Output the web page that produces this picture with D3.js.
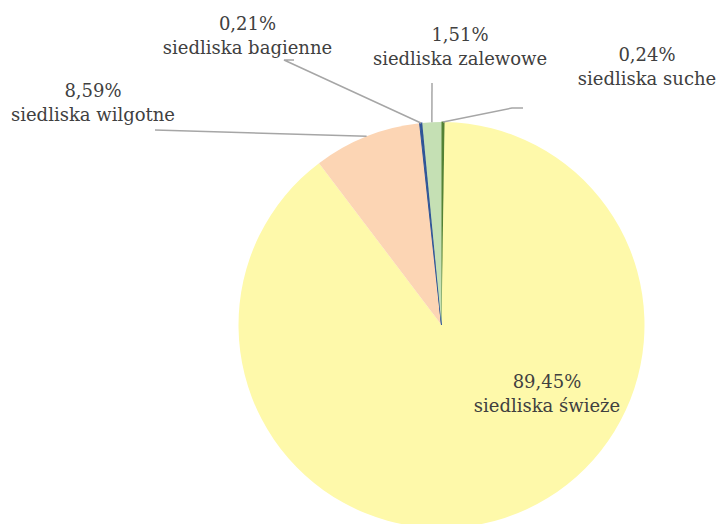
<!DOCTYPE html>
<html>
<head>
<meta charset="utf-8">
<script src="https://cdn.jsdelivr.net/npm/d3@7"></script>
<style>
  html, body { margin: 0; padding: 0; background: #fff; }
  svg { display: block; }
</style>
</head>
<body>
<svg id="chart" width="717" height="524"></svg>
<script>
// Udział typów siedliskowych (%)
const categories = ["siedliska suche", "siedliska świeże", "siedliska wilgotne", "siedliska bagienne", "siedliska zalewowe"];
const shares = [0.24, 89.45, 8.59, 0.21, 1.51];
const shareLabels = ["0,24%", "89,45%", "8,59%", "0,21%", "1,51%"];

const colors = ["#548235", "#FEF9AA", "#FCD5B4", "#2F5597", "#C5E0B4"];

const width = 717, height = 524;
const cx = 441.5, cy = 325, r = 203;

// Label placement: text centre, first baseline, and leader-line knee (relative to the svg)
const labelLayout = [
  { x: 647, y: 61, knee: [[523, 108], [512, 108]] },
  { x: 547, y: 388, knee: null },
  { x: 93, y: 97, knee: [[155, 130]] },
  { x: 247.5, y: 30, knee: [[294, 60], [284, 60]] },
  { x: 460, y: 41, knee: [[432, 83]] }
];

const svg = d3.select("#chart");
const g = svg.append("g").attr("transform", `translate(${cx},${cy})`);

const data = categories.map((c, i) => ({ name: c, value: shares[i], label: shareLabels[i], i }));

const pie = d3.pie().value(d => d.value).sort(null);
const arcs = pie(data);

const arc = d3.arc().innerRadius(0).outerRadius(r);
const edge = d3.arc().innerRadius(r).outerRadius(r);

g.selectAll("path.slice")
  .data(arcs)
  .join("path")
  .attr("class", "slice")
  .attr("d", arc)
  .attr("fill", (d, i) => colors[i])
  .attr("stroke", (d, i) => (d.data.value < 0.5 ? colors[i] : "none"))
  .attr("stroke-width", 1);

// Leader lines from the slice edge to the label
const lines = svg.append("g");
arcs.forEach((a, i) => {
  const lay = labelLayout[i];
  if (!lay.knee) return;
  const c = edge.centroid(a);
  const pts = [[c[0] + cx, c[1] + cy]].concat(lay.knee.slice().reverse());
  lines.append("path")
    .attr("d", d3.line()(pts))
    .attr("fill", "none")
    .attr("stroke", "#A6A6A6")
    .attr("stroke-width", 1.5);
});

// Labels
const labels = svg.append("g")
  .attr("font-family", "'DejaVu Serif', 'Liberation Serif', serif")
  .attr("font-size", 18)
  .attr("fill", "#404040")
  .attr("text-anchor", "middle");

arcs.forEach((a, i) => {
  const lay = labelLayout[i];
  const t = labels.append("text").attr("x", lay.x).attr("y", lay.y);
  t.append("tspan").attr("x", lay.x).text(a.data.label);
  t.append("tspan").attr("x", lay.x).attr("dy", 23.5).text(a.data.name);
});
</script>
</body>
</html>
